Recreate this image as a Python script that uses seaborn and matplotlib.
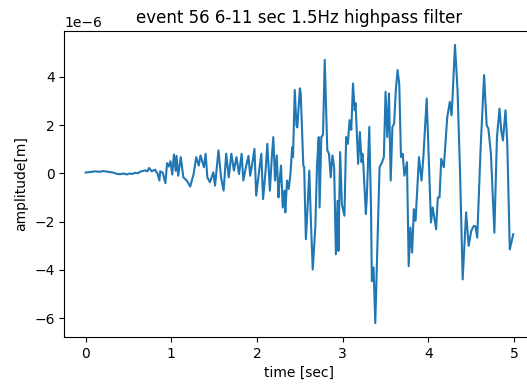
import numpy as np
import pandas as pd
import matplotlib
matplotlib.use("Agg")
import matplotlib.pyplot as plt
import seaborn as sns

# time [sec] and amplitude [1e-6 m]
time_sec = [
    0.00, 0.05, 0.11, 0.16, 0.21, 0.26, 0.32, 0.36, 0.40, 0.44,
    0.48, 0.51, 0.54, 0.58, 0.61, 0.64, 0.69, 0.72, 0.74, 0.77,
    0.81, 0.84, 0.86, 0.87, 0.90, 0.93, 0.95, 0.97, 0.99, 1.01,
    1.03, 1.05, 1.06, 1.08, 1.11, 1.14, 1.18, 1.22, 1.26, 1.29,
    1.32, 1.34, 1.38, 1.40, 1.42, 1.45, 1.49, 1.51, 1.55, 1.58,
    1.61, 1.64, 1.67, 1.70, 1.73, 1.76, 1.79, 1.82, 1.84, 1.87,
    1.90, 1.92, 1.94, 1.97, 1.99, 2.02, 2.05, 2.07, 2.10, 2.12,
    2.15, 2.17, 2.19, 2.21, 2.23, 2.25, 2.26, 2.28, 2.30, 2.32,
    2.33, 2.35, 2.37, 2.39, 2.41, 2.42, 2.44, 2.46, 2.47, 2.50,
    2.51, 2.54, 2.55, 2.57, 2.59, 2.61, 2.63, 2.65, 2.68, 2.70,
    2.72, 2.73, 2.75, 2.77, 2.79, 2.82, 2.84, 2.86, 2.88, 2.90,
    2.92, 2.94, 2.95, 2.97, 2.99, 3.02, 3.04, 3.06, 3.08, 3.10,
    3.12, 3.14, 3.15, 3.18, 3.20, 3.22, 3.23, 3.24, 3.27, 3.28,
    3.31, 3.33, 3.34, 3.36, 3.38, 3.40, 3.43, 3.46, 3.48, 3.50,
    3.52, 3.54, 3.56, 3.58, 3.60, 3.62, 3.64, 3.66, 3.68, 3.70,
    3.72, 3.75, 3.77, 3.79, 3.81, 3.83, 3.85, 3.89, 3.92, 3.94,
    3.98, 4.03, 4.05, 4.09, 4.11, 4.13, 4.15, 4.18, 4.22, 4.25,
    4.27, 4.28, 4.31, 4.34, 4.37, 4.40, 4.44, 4.47, 4.50, 4.53,
    4.55, 4.57, 4.61, 4.65, 4.68, 4.70, 4.73, 4.77, 4.80, 4.83,
    4.85, 4.87, 4.90, 4.92, 4.95, 4.96, 4.99,
]
amplitude_um = [
    0.03, 0.05, 0.08, 0.06, 0.09, 0.06, 0.03, -0.02, -0.04, -0.01,
    -0.05, -0.01, -0.03, 0.02, 0.00, 0.07, 0.12, 0.08, 0.22, 0.08,
    0.15, -0.03, -0.30, 0.08, 0.02, -0.41, 0.42, 0.28, 0.50, -0.05,
    0.78, 0.10, 0.72, -0.10, 0.67, -0.17, -0.30, -0.55, -0.03, 0.67,
    0.32, 0.74, 0.25, 0.81, -0.17, -0.37, 0.04, -0.51, 0.95, -0.17,
    -0.72, 0.81, -0.17, 0.81, 0.11, 0.67, -0.03, 0.81, -0.30, 0.25,
    0.72, -0.10, 0.30, 1.01, -0.93, -0.03, 0.81, -1.07, 0.11, 1.22,
    -0.72, 0.53, 1.50, -0.30, 0.74, -1.00, -0.44, 0.32, -1.42, -0.72,
    -1.62, -0.30, -0.65, -0.03, 1.08, 0.67, 3.45, 1.99, 1.90, 3.52,
    3.30, 0.32, 0.25, -2.73, -1.42, 0.11, -2.11, -3.99, -2.25, 0.32,
    1.50, -1.42, 1.50, 1.60, 4.70, 0.95, 0.81, -0.17, 0.74, 0.25,
    -3.36, -1.14, -3.22, 0.88, -1.28, -1.76, 1.50, 1.22, 2.20, 1.80,
    3.72, 2.61, 2.90, 0.39, 1.71, 0.46, 0.81, 0.40, -1.69, -1.10,
    1.92, -1.42, -4.47, -3.90, -6.21, -3.64, 0.25, 0.46, 0.67, 3.38,
    1.50, 3.31, -0.30, 1.92, 2.06, 3.45, 4.28, 3.70, 0.67, 0.81,
    -0.10, 0.46, -3.85, -2.25, -3.29, -1.49, -1.97, 0.67, -0.30, 0.60,
    3.10, -2.04, -1.42, -2.32, -1.00, -1.00, 0.60, 0.25, 2.33, 2.96,
    2.40, 3.00, 5.32, 3.45, -0.03, -4.40, -1.62, -3.01, -2.39, -2.18,
    -2.20, -2.67, 1.08, 4.07, 1.99, 1.85, 0.80, -2.46, 1.50, 2.68,
    1.78, 1.36, 2.61, 1.30, -3.15, -3.00, -2.53,
]

df = pd.DataFrame({"time": time_sec, "amp": np.array(amplitude_um) * 1e-6})

fig = plt.figure(figsize=(5.27, 3.85), dpi=100)
# axes run past the right edge, like the cropped original
ax = fig.add_axes([64.3 / 527, 48 / 385, 470.3 / 527, 306 / 385])

sns.lineplot(data=df, x="time", y="amp", ax=ax, sort=False, color="#1f77b4", linewidth=1.5)

ax.set_title("event 56 6-11 sec 1.5Hz highpass filter")
ax.set_xlabel("time [sec]")
ax.set_ylabel("amplitude[m]")

fig.savefig("out.png", dpi=100)
